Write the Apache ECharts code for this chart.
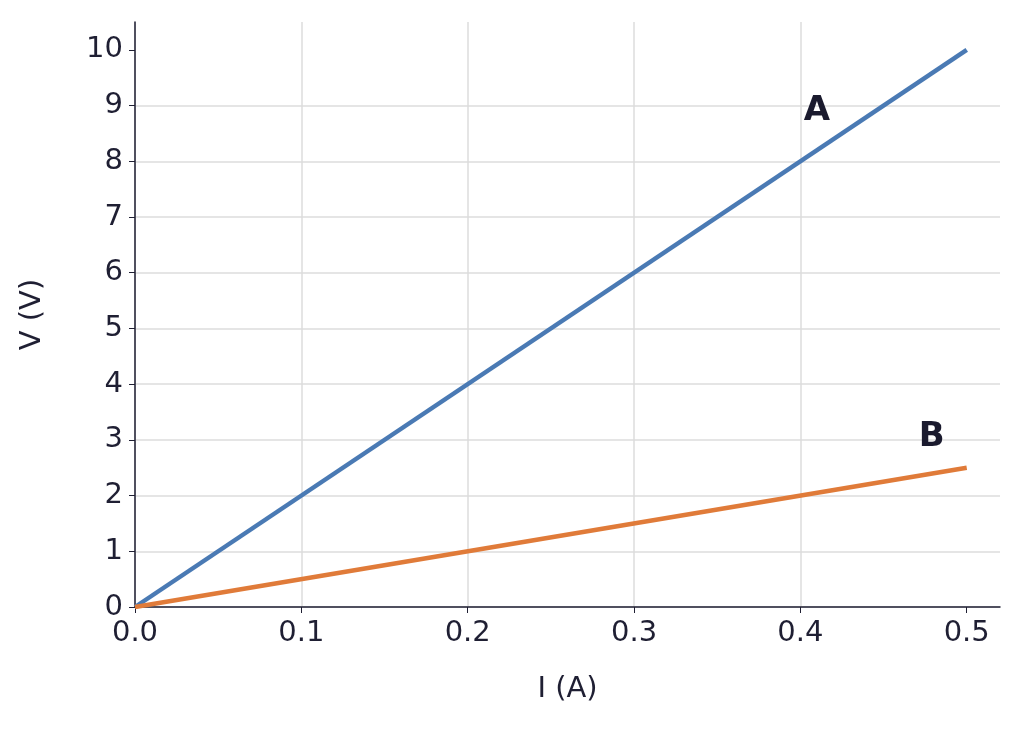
<!DOCTYPE html>
<html><head><meta charset="utf-8">
<script src="https://cdn.jsdelivr.net/npm/echarts@6/dist/echarts.min.js"></script>
<style>html,body{margin:0;background:#fff}#c{width:1024px;height:730px}</style>
</head><body><div id="c"></div>
<script>
const currentA = [0, 0.5];
const voltageA = [0, 10];
const currentB = [0, 0.5];
const voltageB = [0, 2.5];
const labelNames = ['A', 'B'];
const labelX = [0.41, 0.479];
const labelY = [8.9, 3.05];
const xTickVals = [0, 0.1, 0.2, 0.3, 0.4, 0.5];
const xTicks = ['0.0','0.1','0.2','0.3','0.4','0.5'];
const yTickVals = [0,1,2,3,4,5,6,7,8,9,10];

const txt = '#1f1f33';
const font = 'DejaVu Sans';
const chart = echarts.init(document.getElementById('c'));
chart.setOption({
  animation: false,
  textStyle: {fontFamily: font},
  grid: {left: 135, right: 24, top: 22, bottom: 123},
  xAxis: {
    type: 'value', min: 0, max: 0.52, interval: 0.1,
    name: 'I (A)', nameLocation: 'middle', nameGap: 68,
    nameTextStyle: {fontSize: 29, color: txt, fontFamily: font},
    axisLine: {lineStyle: {color: txt, width: 1.5}},
    axisTick: {show: true, length: 6, customValues: xTickVals, lineStyle: {color: txt}},
    axisLabel: {fontSize: 29, color: txt, margin: 12, customValues: xTickVals,
      formatter: v => xTicks[Math.round(v*10)] || ''},
    splitLine: {show: true, showMaxLine: false, lineStyle: {color: '#dddddd', width: 1.5}}
  },
  yAxis: {
    type: 'value', min: 0, max: 10.5, interval: 1,
    name: 'V (V)', nameLocation: 'middle', nameGap: 88, nameRotate: 90,
    nameTextStyle: {fontSize: 29, color: txt, fontFamily: font},
    axisLine: {show: true, lineStyle: {color: txt, width: 1.5}},
    axisTick: {show: true, length: 6, customValues: yTickVals, lineStyle: {color: txt}},
    axisLabel: {fontSize: 29, color: txt, margin: 12, customValues: yTickVals},
    splitLine: {show: true, showMaxLine: false, lineStyle: {color: '#dddddd', width: 1.5}}
  },
  series: [
    {type: 'line', data: currentA.map((x,i)=>[x, voltageA[i]]), symbol: 'none',
     lineStyle: {color: '#4a7ab4', width: 4.5}},
    {type: 'line', data: currentB.map((x,i)=>[x, voltageB[i]]), symbol: 'none',
     lineStyle: {color: '#e07b39', width: 4.5}},
    {type: 'scatter', symbolSize: 0, itemStyle: {opacity: 1},
     data: labelNames.map((n,i)=>({name: n, value: [labelX[i], labelY[i]]})),
     label: {show: true, position: 'inside', formatter: p => p.name, opacity: 1,
       fontSize: 34, fontWeight: 'bold', color: '#1a1a2e', fontFamily: font}}
  ]
});
</script></body></html>
